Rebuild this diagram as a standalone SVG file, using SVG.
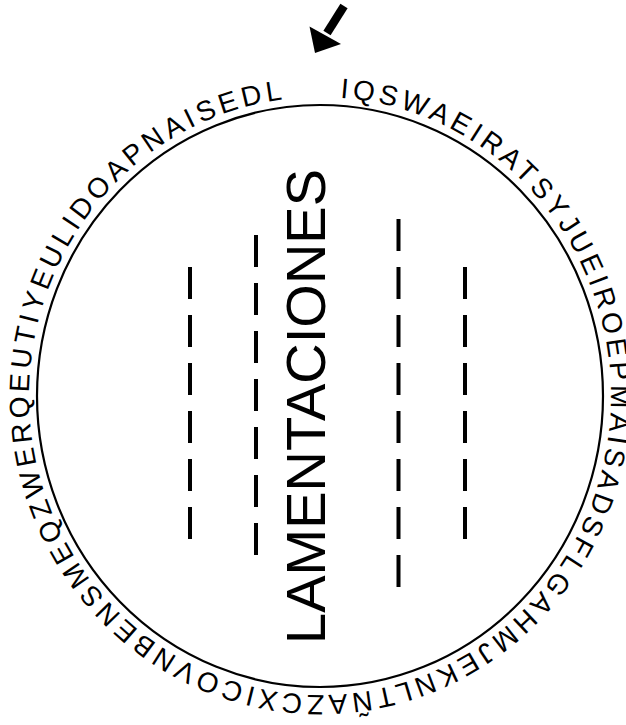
<svg xmlns="http://www.w3.org/2000/svg" xmlns:xlink="http://www.w3.org/1999/xlink" width="626" height="725" viewBox="0 0 626 725">
<style>
  .ring { fill: none; stroke: #000; stroke-width: 2.2; }
  .dash { stroke: #000; stroke-width: 4; stroke-dasharray: 32 16; fill: none; }
  .rim { font-family: "Liberation Sans", Arial, sans-serif; font-size: 28px; letter-spacing: 4.1px; fill: #000; }
  .title { font-family: "Liberation Sans", Arial, sans-serif; font-size: 56px; fill: #000; }
</style>
<defs>
  <path id="rimPath" d="M 320 97 A 291 299 0 1 1 320 695 A 291 299 0 1 1 320 97"/>
</defs>
<rect width="626" height="725" fill="#fff"/>
<g id="disc">
  <ellipse class="ring" cx="320" cy="396" rx="283" ry="291"/>
</g>
<g id="rim-text">
  <text class="rim"><textPath xlink:href="#rimPath" href="#rimPath" startOffset="20">IQSWAEIRATSYJUEIROEPMAISADSFLGAHMJEKNLTÑAZCXICOVNBENSMEQZWERQEUTIYEULIDOAPNAISEDL</textPath></text>
</g>
<g id="dashes">
  <line class="dash" x1="190" y1="267" x2="190" y2="540"/>
  <line class="dash" x1="256" y1="235" x2="256" y2="556"/>
  <line class="dash" x1="398.5" y1="219" x2="398.5" y2="588"/>
  <line class="dash" x1="465" y1="267" x2="465" y2="540"/>
</g>
<g id="title">
  <text class="title" transform="translate(325,644) rotate(-90)">LAMENTACIONES</text>
</g>
<g id="arrow">
  <line x1="344" y1="6" x2="327" y2="33" stroke="#000" stroke-width="8.5"/>
  <polygon points="309.5,26.5 315,53 341,44" fill="#000"/>
</g>
</svg>
